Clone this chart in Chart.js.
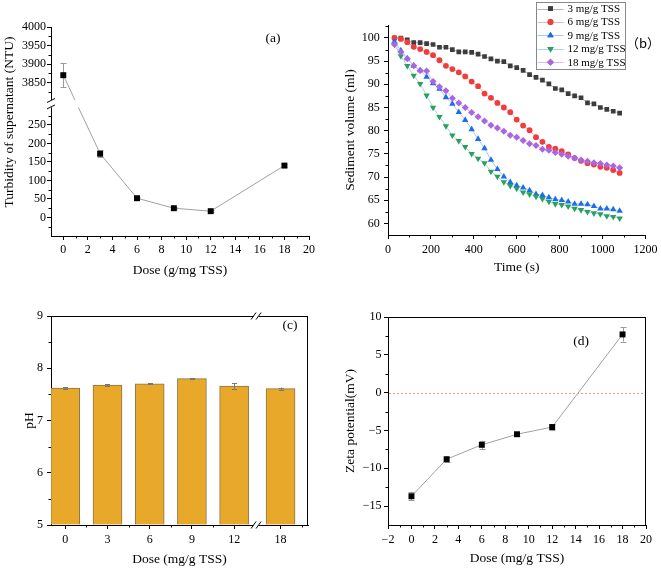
<!DOCTYPE html>
<html><head><meta charset="utf-8">
<script src="https://cdn.jsdelivr.net/npm/chart.js@4.4.1/dist/chart.umd.min.js"></script>
<style>
html,body{margin:0;padding:0;background:#fff;}
#wrap{position:relative;width:661px;height:569px;overflow:hidden;background:#fff;}
canvas{position:absolute;}
</style></head><body>
<div id="wrap">
<canvas id="ca" width="330" height="290" style="left:0;top:0"></canvas>
<canvas id="cb" width="331" height="290" style="left:330px;top:0"></canvas>
<canvas id="cc" width="330" height="279" style="left:0;top:290px"></canvas>
<canvas id="cd" width="331" height="279" style="left:330px;top:290px"></canvas>
</div>
<script>
// ---------- DATA ----------
// (a) turbidity vs dose
const turbDose = [0, 3, 6, 9, 12, 18];
const turbidity = [3870, 172, 52, 25, 17, 140];
const turbidityErr = [33, 10, 3, 3, 2, 3];

// (b) sediment volume vs time
const timeS = [30,60,90,120,150,180,210,240,270,300,330,360,390,420,450,480,510,540,570,600,630,660,690,720,750,780,810,840,870,900,930,960,990,1020,1050,1080];
const seriesNames = ['3 mg/g TSS', '6 mg/g TSS', '9 mg/g TSS', '12 mg/g TSS', '18 mg/g TSS'];
const vol3  = [100.0,100.0,99.6,99.0,99.0,98.8,98.6,98.0,98.0,97.5,97.0,97.0,96.9,96.5,96.0,95.5,95.0,94.9,94.0,93.6,93.0,92.1,91.5,90.9,90.1,89.1,88.8,88.0,87.5,87.1,86.0,85.8,85.0,84.6,84.2,83.8];
const vol6  = [100.0,99.8,99.1,98.1,97.6,97.0,96.3,95.2,94.0,93.3,92.6,91.7,90.6,89.6,88.0,87.1,86.0,85.0,84.0,82.4,81.1,80.1,78.6,77.6,76.5,76.1,75.6,74.9,74.1,73.5,73.0,72.7,72.2,72.0,71.5,70.9];
const vol9  = [99.2,97.3,95.6,94.0,93.0,91.6,90.2,89.0,87.2,85.8,84.0,82.3,80.3,78.2,76.2,73.7,71.7,70.1,68.9,68.2,67.7,67.1,66.3,66.1,65.6,65.2,65.0,64.7,64.2,64.2,64.1,63.7,63.2,63.2,63.0,62.7];
const vol12 = [98.6,96.1,94.0,91.9,90.1,87.6,85.0,83.0,81.0,79.0,77.8,76.5,75.0,74.0,73.0,71.2,70.1,68.9,68.1,67.5,66.7,66.3,65.8,65.3,64.7,64.2,64.0,63.7,63.2,62.9,62.5,62.2,62.0,61.6,61.4,61.1];
const vol18 = [98.6,97.0,95.5,94.0,93.0,92.9,90.6,89.5,88.6,87.0,86.0,85.0,83.9,83.0,82.1,81.2,80.6,79.9,79.0,78.6,77.9,77.2,76.8,76.0,75.8,75.3,74.9,74.5,74.1,73.7,73.4,73.1,72.9,72.6,72.4,72.0];

// (c) pH vs dose
const phDose = ['0', '3', '6', '9', '12', '18'];
const ph = [7.62, 7.68, 7.70, 7.80, 7.66, 7.61];
const phErr = [0.02, 0.015, 0.01, 0.015, 0.05, 0.02];

// (d) zeta potential vs dose
const zetaDose = [0, 3, 6, 9, 12, 18];
const zeta = [-13.7, -8.8, -6.9, -5.5, -4.55, 7.7];
const zetaErr = [0.5, 0.35, 0.55, 0.2, 0.35, 0.95];

// tick values
const aXTicks = [0,2,4,6,8,10,12,14,16,18,20];
const aYTicksLow = [0,50,100,150,200,250];
const aYTicksHigh = [3850,3900,3950,4000];
const bXTicks = [0,200,400,600,800,1000,1200];
const bYTicks = [60,65,70,75,80,85,90,95,100];
const cYTicks = [5,6,7,8,9];
const dXTicks = [-2,0,2,4,6,8,10,12,14,16,18,20];
const dYTicks = [-15,-10,-5,0,5,10];

// ---------- STYLE ----------
const SERIF = "'Liberation Serif','Times New Roman',serif";
Chart.defaults.font.family = SERIF;
Chart.defaults.font.size = 12;
Chart.defaults.color = '#000';
Chart.defaults.animation = false;

function mkScale(o) {
  return {
    type: 'linear',
    position: o.pos,
    min: o.min, max: o.max,
    offset: false,
    grid: {display: true, offset: false, drawOnChartArea: false, drawTicks: true, tickLength: 4, tickColor: '#000', tickWidth: 1},
    border: {display: true, color: '#000', width: 1},
    ticks: {padding: o.tickPad, autoSkip: false, maxRotation: 0, minRotation: 0, color: '#000',
      font: {size: 12, family: SERIF}, callback: o.label || (v => String(v))},
    title: o.title ? {display: true, text: o.title, color: '#000', font: {size: 13.5, family: SERIF},
      padding: o.pos === 'bottom' ? {top: 0, bottom: o.titlePad} : {top: o.titlePad, bottom: 0}} : {display: false},
    afterBuildTicks: s => { s.ticks = o.ticks.map(v => ({value: v})); },
    afterFit: s => { if (o.pos === 'bottom') s.height = o.size; else s.width = o.size; }
  };
}

// ---------- PLUGINS ----------
const minorPlugin = {
  id: 'minor',
  afterDraw(chart, a, o) {
    const ctx = chart.ctx, ca = chart.chartArea;
    ctx.save(); ctx.strokeStyle = '#000'; ctx.lineWidth = 1;
    (o.x || []).forEach(v => {
      const p = Math.round(chart.scales.x.getPixelForValue(v)) + 0.5;
      const y = Math.round(ca.bottom);
      ctx.beginPath(); ctx.moveTo(p, y); ctx.lineTo(p, y + 2.5); ctx.stroke();
    });
    (o.y || []).forEach(v => {
      const p = Math.round(chart.scales.y.getPixelForValue(v)) + 0.5;
      const x = Math.round(ca.left);
      ctx.beginPath(); ctx.moveTo(x, p); ctx.lineTo(x - 2.5, p); ctx.stroke();
    });
    ctx.restore();
  }
};

const framePlugin = {
  id: 'frame',
  afterDatasetsDraw(chart, a, o) {
    if (!o.box) return;
    const ctx = chart.ctx, ca = chart.chartArea;
    ctx.save(); ctx.strokeStyle = '#000'; ctx.lineWidth = 1;
    const t = Math.round(ca.top) + 0.5, r = Math.round(ca.right) - 0.5;
    ctx.beginPath(); ctx.moveTo(Math.round(ca.left), t); ctx.lineTo(r + 0.5, t);
    ctx.moveTo(r, t); ctx.lineTo(r, Math.round(ca.bottom) + 0.5); ctx.stroke();
    ctx.restore();
  }
};

function slash(ctx, x, y, w, h) {
  ctx.beginPath(); ctx.moveTo(x - w, y + h); ctx.lineTo(x + w, y - h); ctx.stroke();
}
const breakPlugin = {
  id: 'breaks',
  afterDatasetsDraw(chart, a, o) {
    const ctx = chart.ctx, ca = chart.chartArea;
    ctx.save(); ctx.lineWidth = 1; ctx.strokeStyle = '#000'; ctx.fillStyle = '#fff';
    if (o.yBand) {
      const ys = chart.scales.y;
      const p1 = ys.getPixelForValue(o.yBand[1]), p2 = ys.getPixelForValue(o.yBand[0]);
      ctx.fillRect(ca.left - 1, p1, ca.right - ca.left + 1, p2 - p1);
      slash(ctx, ca.left, p1 + 0.5, 4, 2);
      slash(ctx, ca.left, p2 - 0.5, 4, 2);
    }
    if (o.xAt !== undefined) {
      const x = chart.scales.x.getPixelForValue(o.xAt);
      [ca.top, ca.bottom].forEach(y => {
        ctx.fillRect(x - 2.5, y - 1.5, 5, 3);
        slash(ctx, x - 2.5, y, 2.5, 3.5);
        slash(ctx, x + 2.5, y, 2.5, 3.5);
      });
    }
    ctx.restore();
  }
};

function drawErr(chart, o) {
  const ctx = chart.ctx, ys = chart.scales.y, f = o.transform || (v => v);
  ctx.save(); ctx.strokeStyle = o.color || '#888'; ctx.lineWidth = 1;
  chart.data.datasets.forEach((ds, di) => {
    if (!ds.errorBars) return;
    const meta = chart.getDatasetMeta(di);
    meta.data.forEach((el, i) => {
      const v = ds.rawValues[i], e = ds.errorBars[i];
      const x = Math.round(el.x) + 0.5;
      const y1 = ys.getPixelForValue(f(v + e)), y2 = ys.getPixelForValue(f(v - e));
      ctx.beginPath();
      ctx.moveTo(x, y1); ctx.lineTo(x, y2);
      ctx.moveTo(x - o.cap, Math.round(y1) + 0.5); ctx.lineTo(x + o.cap, Math.round(y1) + 0.5);
      ctx.moveTo(x - o.cap, Math.round(y2) + 0.5); ctx.lineTo(x + o.cap, Math.round(y2) + 0.5);
      ctx.stroke();
    });
  });
  ctx.restore();
}
const errPlugin = {
  id: 'errbars',
  beforeDatasetsDraw(chart, a, o) { if (o.before) drawErr(chart, o); },
  afterDatasetsDraw(chart, a, o) { if (!o.before) drawErr(chart, o); }
};

const textPlugin = {
  id: 'texts',
  afterDraw(chart, a, o) {
    const ctx = chart.ctx;
    (o.items || []).forEach(t => {
      ctx.save();
      ctx.font = (t.size || 13.5) + 'px ' + (t.family || SERIF);
      ctx.fillStyle = '#000';
      ctx.textAlign = t.align || 'center';
      ctx.textBaseline = 'middle';
      ctx.translate(t.x, t.y);
      if (t.rot) ctx.rotate(t.rot);
      ctx.fillText(t.text, 0, 0);
      ctx.restore();
    });
  }
};

const zeroLinePlugin = {
  id: 'zeroline',
  afterDatasetsDraw(chart, a, o) {
    if (!o.on) return;
    const ctx = chart.ctx, ca = chart.chartArea;
    const y = Math.round(chart.scales.y.getPixelForValue(0)) + 0.5;
    ctx.save();
    ctx.setLineDash([2, 2]);
    ctx.strokeStyle = o.color;
    ctx.lineWidth = 1;
    ctx.beginPath(); ctx.moveTo(Math.round(ca.left) + 1, y); ctx.lineTo(Math.round(ca.right) - 1, y); ctx.stroke();
    ctx.restore();
  }
};

const legendPlugin = {
  id: 'boxlegend',
  afterDraw(chart, a, o) {
    if (!o.on) return;
    const ctx = chart.ctx;
    ctx.save();
    ctx.strokeStyle = '#888'; ctx.lineWidth = 1;
    ctx.strokeRect(o.x1 + 0.5, o.y1 + 0.5, o.x2 - o.x1, o.y2 - o.y1);
    chart.data.datasets.forEach((ds, i) => {
      const y = o.y0 + i * o.dy;
      ctx.strokeStyle = ds.borderColor; ctx.lineWidth = 1;
      ctx.beginPath(); ctx.moveTo(o.lx1, Math.round(y) + 0.5); ctx.lineTo(o.lx2, Math.round(y) + 0.5); ctx.stroke();
      ctx.fillStyle = ds.pointBackgroundColor;
      Chart.helpers.drawPoint(ctx, {pointStyle: ds.pointStyle, rotation: ds.pointRotation || 0,
        radius: ds.pointRadius, borderWidth: 0}, (o.lx1 + o.lx2) / 2, y);
      ctx.fill();
      ctx.fillStyle = '#000';
      ctx.font = o.size + 'px ' + SERIF;
      ctx.textAlign = 'left'; ctx.textBaseline = 'middle';
      ctx.fillText(ds.label, o.tx, y + 0.5);
    });
    ctx.restore();
  }
};

const allPlugins = [minorPlugin, framePlugin, breakPlugin, errPlugin, textPlugin, zeroLinePlugin, legendPlugin];

// ---------- (a) ----------
const BR_LO = 300, BR_HI = 3800, BR_GAP = 14;
const brk = v => v <= BR_LO ? v : v - BR_HI + BR_LO + BR_GAP;
const unbrk = d => d <= BR_LO ? d : d - BR_LO - BR_GAP + BR_HI;

new Chart(document.getElementById('ca'), {
  type: 'line',
  data: {datasets: [{
    data: turbDose.map((x, i) => ({x: x, y: brk(turbidity[i])})),
    rawValues: turbidity, errorBars: turbidityErr,
    borderColor: '#a0a0a0', borderWidth: 1, tension: 0,
    pointStyle: 'rect', pointRadius: 4.2, pointBackgroundColor: '#000', pointBorderWidth: 0
  }]},
  options: {
    responsive: false, animation: false,
    layout: {padding: {top: 27, right: 21, left: 0, bottom: 0}},
    plugins: {legend: {display: false}, tooltip: {enabled: false},
      minor: {x: [1,3,5,7,9,11,13,15,17,19], y: [-25,25,75,125,175,225,275].concat([3825,3875,3925,3975].map(brk))},
      breaks: {yBand: [297, 317]},
      errbars: {before: true, cap: 3, color: '#999', transform: brk},
      texts: {items: [
        {text: '(a)', x: 273, y: 38},
        {text: 'Turbidity of supernatant (NTU)', x: 9, y: 122, rot: -Math.PI / 2}
      ]}
    },
    scales: {
      x: mkScale({pos: 'bottom', min: -1, max: 20, ticks: aXTicks, tickPad: 2.6, size: 54,
        title: 'Dose (g/mg TSS)', titlePad: 11}),
      y: mkScale({pos: 'left', min: -50, max: brk(4000), ticks: aYTicksLow.concat(aYTicksHigh.map(brk)),
        tickPad: 1, size: 51, label: v => String(Math.round(unbrk(v)))})
    }
  },
  plugins: allPlugins
});

// ---------- (b) ----------
const bSeries = [vol3, vol6, vol9, vol12, vol18];
const bColors = ['#3c3c3c', '#f23b3b', '#1c6ee8', '#28a060', '#a866e2'];
const bLineColors = ['#b4b4b4', '#f6b0b0', '#a8c6f0', '#a4dccf', '#d9bcf2'];
const bStyles = ['rect', 'circle', 'triangle', 'triangle', 'rectRot'];
const bRot = [0, 0, 0, 180, 0];
const bRad = [3.3, 2.9, 3.7, 3.7, 3.5];

new Chart(document.getElementById('cb'), {
  type: 'line',
  data: {datasets: bSeries.map((vals, k) => ({
    label: seriesNames[k],
    data: timeS.map((t, i) => ({x: t, y: vals[i]})),
    borderColor: bLineColors[k], borderWidth: 1, tension: 0,
    pointStyle: bStyles[k], pointRotation: bRot[k], pointRadius: bRad[k],
    pointBackgroundColor: bColors[k], pointBorderWidth: 0,
    order: 5 - k
  }))},
  options: {
    responsive: false, animation: false,
    layout: {padding: {top: 25, right: 15, left: 0, bottom: 0}},
    plugins: {legend: {display: false}, tooltip: {enabled: false},
      minor: {x: [100,300,500,700,900,1100], y: [62.5,67.5,72.5,77.5,82.5,87.5,92.5,97.5,102.5]},
      boxlegend: {on: true, x1: 206, y1: 2, x2: 295, y2: 69, y0: 8.6, dy: 13.4, lx1: 207.5, lx2: 233.5, tx: 237.5, size: 11},
      texts: {items: [{text: '（b）', x: 313, y: 43, size: 13, family: "'Noto Sans CJK SC'," + SERIF}]}
    },
    scales: {
      x: mkScale({pos: 'bottom', min: 0, max: 1200, ticks: bXTicks, tickPad: 3.6, size: 55,
        title: 'Time (s)', titlePad: 14.4}),
      y: mkScale({pos: 'left', min: 57.5, max: 102.8, ticks: bYTicks, tickPad: 4.3, size: 58,
        title: 'Sediment volume (ml)', titlePad: 12.6})
    }
  },
  plugins: allPlugins
});

// ---------- (c) ----------
const cPos = phDose.map((d, i) => i < 5 ? i : i + 0.1);   // category slots, extra room after axis break
new Chart(document.getElementById('cc'), {
  type: 'bar',
  data: {datasets: [{
    data: cPos.map((p, i) => ({x: p, y: ph[i]})),
    rawValues: ph, errorBars: phErr,
    base: 5,
    backgroundColor: '#e8a92b', borderColor: '#8c7448', borderWidth: 1,
    barThickness: 29
  }]},
  options: {
    responsive: false, animation: false,
    layout: {padding: {top: 26, right: 22, left: 0, bottom: 0}},
    plugins: {legend: {display: false}, tooltip: {enabled: false},
      minor: {x: [0.5,1.5,2.5,3.5,5.6], y: [5.5,6.5,7.5,8.5]},
      frame: {box: true},
      breaks: {xAt: 4.52},
      errbars: {before: false, cap: 2.5, color: '#777'},
      texts: {items: [{text: '(c)', x: 290, y: 35}]}
    },
    scales: {
      x: mkScale({pos: 'bottom', min: -0.338, max: 5.75, ticks: cPos, tickPad: 3.6, size: 44,
        title: 'Dose (mg/g TSS)', titlePad: 1, label: (v, i) => phDose[i]}),
      y: mkScale({pos: 'left', min: 5, max: 9, ticks: cYTicks, tickPad: 4, size: 51,
        title: 'pH', titlePad: 21})
    }
  },
  plugins: allPlugins
});

// ---------- (d) ----------
const minusLabel = v => v < 0 ? '\u2212' + Math.abs(v) : String(v);
new Chart(document.getElementById('cd'), {
  type: 'line',
  data: {datasets: [{
    data: zetaDose.map((x, i) => ({x: x, y: zeta[i]})),
    rawValues: zeta, errorBars: zetaErr,
    borderColor: '#a0a0a0', borderWidth: 1, tension: 0,
    pointStyle: 'rect', pointRadius: 4.2, pointBackgroundColor: '#000', pointBorderWidth: 0
  }]},
  options: {
    responsive: false, animation: false,
    layout: {padding: {top: 27, right: 15, left: 0, bottom: 0}},
    plugins: {legend: {display: false}, tooltip: {enabled: false},
      minor: {x: [-1,1,3,5,7,9,11,13,15,17,19], y: [-12.5,-7.5,-2.5,2.5,7.5]},
      frame: {box: true},
      zeroline: {on: true, color: '#ff8a8a'},
      errbars: {before: true, cap: 3, color: '#999'},
      texts: {items: [{text: '(d)', x: 251, y: 51}]}
    },
    scales: {
      x: mkScale({pos: 'bottom', min: -2, max: 20, ticks: dXTicks, tickPad: 3.6, size: 44,
        title: 'Dose (mg/g TSS)', titlePad: 2.6, label: minusLabel}),
      y: mkScale({pos: 'left', min: -17.5, max: 10, ticks: dYTicks, tickPad: 2.6, size: 58,
        title: 'Zeta potential(mV)', titlePad: 12, label: minusLabel})
    }
  },
  plugins: allPlugins
});
</script>
</body></html>
